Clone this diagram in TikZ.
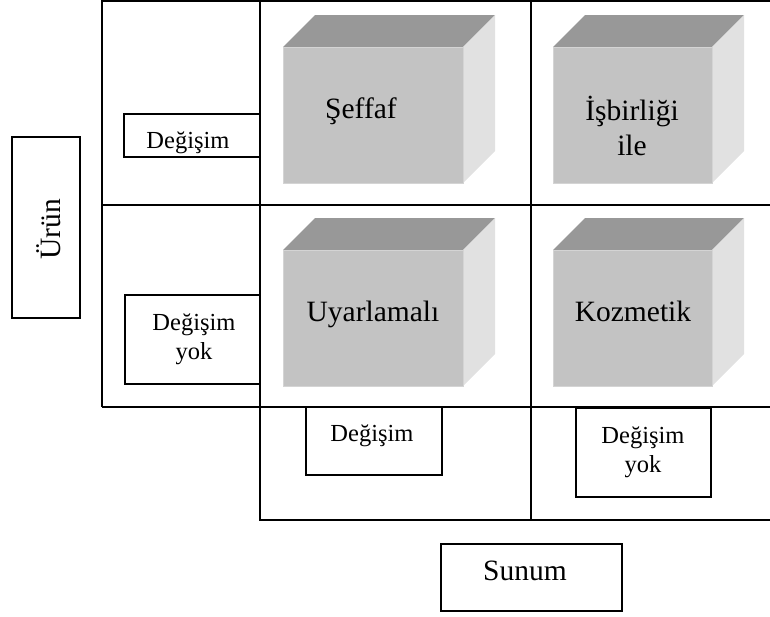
\documentclass[tikz,border=0pt]{standalone}
\usepackage{fontspec}
\setmainfont{Liberation Serif}
\definecolor{cubefront}{HTML}{C3C3C3}
\definecolor{cubeedge}{HTML}{D4D4D4}
\definecolor{cubetop}{HTML}{989898}
\definecolor{cubeside}{HTML}{E1E1E1}
\tikzset{
  gridline/.style={line width=1.9pt, draw=black},
  framebox/.style={draw=black, line width=1.9pt, inner sep=0pt, rectangle},
  biglabel/.style={font=\fontsize{29.5}{35}\selectfont, inner sep=0pt, anchor=base},
  smalllabel/.style={font=\fontsize{24.5}{29}\selectfont, inner sep=0pt, anchor=base},
}
% shaded block: front face from (#1,#2) to (#3,#4), depth 32 up and right
\newcommand\shadedblock[4]{%
  \fill[cubetop] (#1,#2) -- (#1+32,#2-32) -- (#3+32,#2-32) -- (#3,#2) -- cycle;
  \fill[cubeside] (#3,#2) -- (#3+32,#2-32) -- (#3+32,#4-32) -- (#3,#4) -- cycle;
  \filldraw[fill=cubefront, draw=cubeedge, line width=1pt] (#1,#2) rectangle (#3,#4);
}
\newcommand\twolines[2]{\begin{tabular}[t]{@{}c@{}}#1\\#2\end{tabular}}
\begin{document}
\begin{tikzpicture}[x=1pt, y=-1pt]
  \useasboundingbox (0,0) rectangle (770,616);

  % matrix frame
  \draw[gridline] (102,407) -- (102,1.4) -- (772,1.4);
  \draw[gridline] (102,205) -- (772,205);
  \draw[gridline] (102,407) -- (772,407);
  \draw[gridline] (260,0) -- (260,520) -- (772,520);
  \draw[gridline] (531,0) -- (531,520);

  % blocks
  \shadedblock{283}{47}{463}{183}
  \shadedblock{553}{47}{712}{183}
  \shadedblock{283}{250}{463}{386}
  \shadedblock{553}{250}{712}{386}

  \node[biglabel] (seffaf) at (361,118) {Şeffaf};
  \node[biglabel] (isbirligi) at (632,120) {\twolines{İşbirliği}{ile}};
  \node[biglabel] (uyarlamali) at (373,321) {Uyarlamalı};
  \node[biglabel] (kozmetik) at (633,321) {Kozmetik};

  % row labels
  \node[framebox, minimum width=136pt, minimum height=43pt] (rowchg) at (192,135.5) {};
  \node[smalllabel] (rowchgtxt) at (188,148) {Değişim};
  \node[framebox, minimum width=135pt, minimum height=89pt] (rownochg) at (192.5,339.5) {};
  \node[smalllabel] (rownochgtxt) at (194,330) {\twolines{Değişim}{yok}};

  % column labels
  \node[framebox, minimum width=136pt, minimum height=68pt] (colchg) at (374,441) {};
  \node[smalllabel] (colchgtxt) at (372,441) {Değişim};
  \node[framebox, minimum width=135pt, minimum height=89pt] (colnochg) at (643.5,452.5) {};
  \node[smalllabel] (colnochgtxt) at (643,443) {\twolines{Değişim}{yok}};

  % axis titles
  \node[framebox, minimum width=68pt, minimum height=181pt] (urunbox) at (46,227.5) {};
  \node[biglabel, rotate=90] (urun) at (60,229) {Ürün};
  \node[framebox, minimum width=181pt, minimum height=67pt] (sunumbox) at (531.5,577.5) {};
  \node[biglabel] (sunum) at (525,580.5) {Sunum};
\end{tikzpicture}
\end{document}
